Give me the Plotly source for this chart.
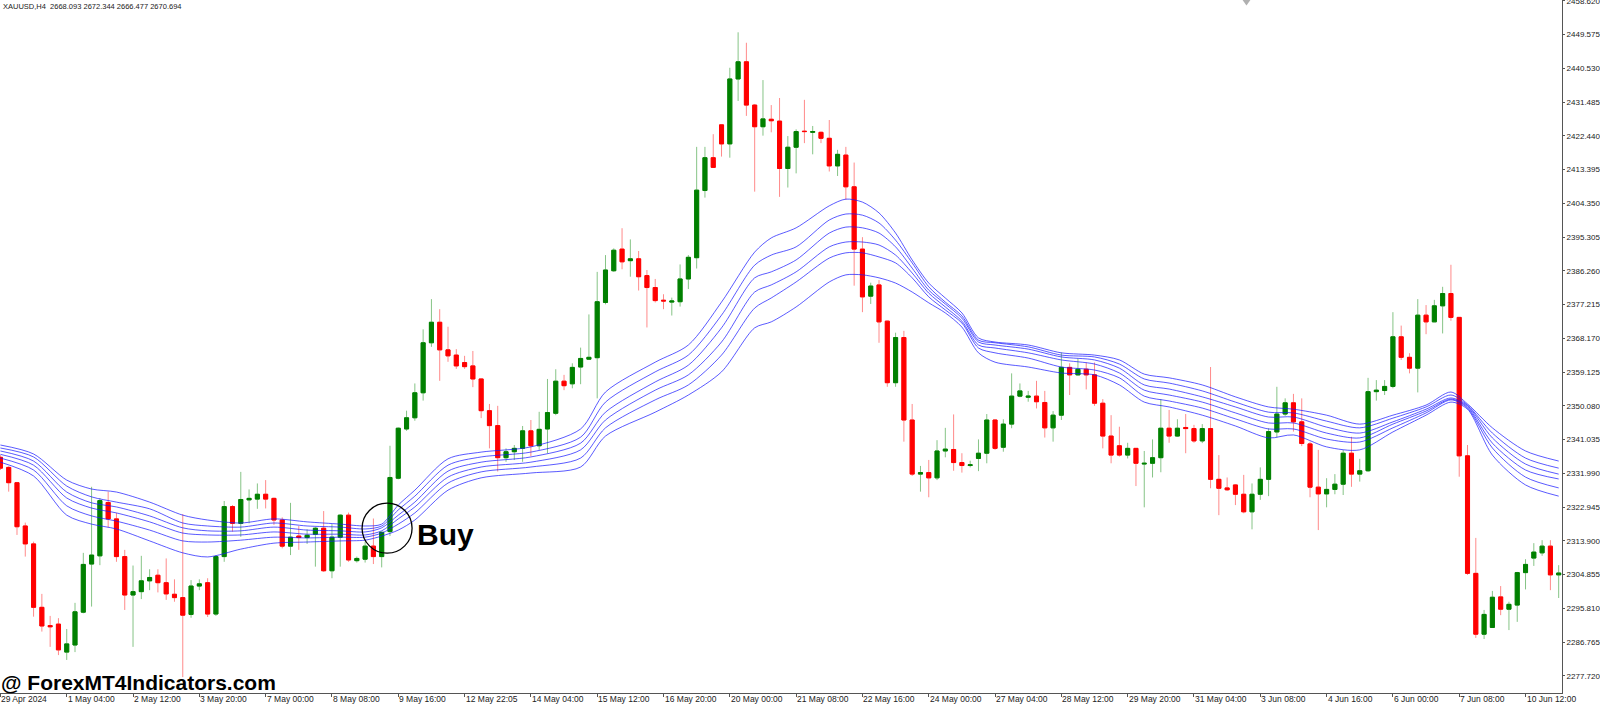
"""
xauusd_h4_ribbon.py — XAUUSD H4 candles with a 6-line MA ribbon and a Buy mark
"""

import numpy as np
import plotly.graph_objects as go

# ---- candles (bar index 0..188), prices ----
opens = [
    2336.3, 2333.6, 2329.5, 2317.9, 2313.1, 2296.1, 2291.2, 2291.6, 2284.1, 2286.0,
    2294.8, 2307.7, 2309.9, 2324.2, 2319.8, 2309.7, 2299.4, 2300.3, 2303.2, 2304.7,
    2302.7, 2299.6, 2298.7, 2294.2, 2301.8, 2302.7, 2294.3, 2309.7, 2323.1, 2318.6,
    2324.9, 2325.1, 2326.4, 2325.3, 2319.5, 2312.5, 2315.2, 2314.8, 2315.7, 2317.3,
    2305.9, 2314.9, 2320.8, 2308.6, 2309.0, 2312.5, 2309.7, 2316.4, 2330.7, 2343.9,
    2346.9, 2353.6, 2367.0, 2372.5, 2365.1, 2363.7, 2361.7, 2360.8, 2357.3, 2348.8,
    2344.8, 2336.2, 2337.8, 2338.7, 2343.4, 2339.4, 2343.9, 2348.1, 2356.7, 2356.0,
    2360.5, 2362.6, 2363.0, 2377.8, 2386.3, 2392.1, 2389.0, 2389.5, 2385.0, 2381.8,
    2378.4, 2377.9, 2378.0, 2384.1, 2389.8, 2407.8, 2416.6, 2425.4, 2420.3, 2437.7,
    2442.3, 2430.7, 2424.9, 2426.9, 2426.4, 2413.7, 2419.4, 2423.7, 2423.4, 2423.4,
    2421.8, 2414.4, 2417.3, 2408.8, 2392.1, 2379.5, 2382.5, 2372.8, 2356.3, 2368.4,
    2346.3, 2331.8, 2332.2, 2330.8, 2338.0, 2338.4, 2334.9, 2334.1, 2336.0, 2337.4,
    2346.3, 2339.0, 2345.2, 2352.7, 2352.4, 2352.7, 2351.0, 2344.2, 2347.6, 2360.4,
    2358.4, 2359.9, 2358.4, 2350.8, 2342.0, 2339.4, 2336.9, 2338.7, 2334.5, 2334.7,
    2336.2, 2344.1, 2342.0, 2344.3, 2344.0, 2340.7, 2344.0, 2330.4, 2328.1, 2328.9,
    2326.4, 2321.7, 2326.4, 2330.4, 2343.1, 2347.9, 2350.9, 2345.8, 2339.9, 2328.3,
    2326.5, 2327.7, 2329.1, 2337.4, 2331.8, 2332.7, 2353.9, 2354.2, 2355.3, 2368.6,
    2363.1, 2360.2, 2374.4, 2372.6, 2376.9, 2380.2, 2373.8, 2336.7, 2305.2, 2288.9,
    2290.7, 2298.9, 2295.6, 2296.7, 2305.4, 2309.3, 2310.7, 2312.5, 2304.8,
]
highs = [
    2336.9, 2333.9, 2329.7, 2318.8, 2313.7, 2299.7, 2293.8, 2293.2, 2290.3, 2297.3,
    2310.7, 2328.4, 2325.4, 2327.1, 2321.4, 2311.5, 2307.3, 2309.9, 2306.3, 2306.3,
    2309.2, 2303.6, 2321.1, 2303.4, 2303.6, 2303.9, 2310.1, 2324.6, 2323.5, 2332.4,
    2327.7, 2329.3, 2330.2, 2325.5, 2320.2, 2324.1, 2317.9, 2317.0, 2317.6, 2321.9,
    2318.4, 2321.0, 2321.5, 2309.7, 2313.7, 2319.9, 2316.4, 2339.4, 2344.3, 2348.8,
    2356.1, 2370.6, 2378.7, 2376.0, 2371.3, 2365.3, 2363.5, 2364.8, 2357.4, 2350.6,
    2350.1, 2338.7, 2339.6, 2344.7, 2346.3, 2348.5, 2357.3, 2359.9, 2358.4, 2361.5,
    2365.7, 2374.6, 2386.0, 2390.5, 2392.3, 2397.7, 2394.7, 2391.6, 2386.5, 2384.1,
    2380.0, 2379.1, 2388.0, 2390.5, 2419.5, 2419.5, 2422.9, 2425.4, 2440.7, 2450.2,
    2447.4, 2431.0, 2437.4, 2430.7, 2432.6, 2422.4, 2424.2, 2432.1, 2425.1, 2423.6,
    2426.7, 2418.7, 2419.5, 2415.3, 2395.3, 2383.1, 2383.8, 2372.9, 2369.7, 2370.2,
    2350.6, 2334.0, 2335.6, 2340.9, 2344.2, 2347.8, 2337.4, 2335.4, 2341.1, 2347.9,
    2346.5, 2346.5, 2358.8, 2356.1, 2354.1, 2356.8, 2354.1, 2348.7, 2364.4, 2361.5,
    2362.8, 2361.7, 2361.7, 2351.9, 2347.6, 2344.5, 2340.2, 2338.8, 2338.0, 2341.1,
    2351.9, 2349.0, 2346.5, 2347.9, 2345.0, 2345.2, 2360.5, 2336.9, 2330.9, 2329.1,
    2331.6, 2329.3, 2333.6, 2344.1, 2355.2, 2352.1, 2353.3, 2352.1, 2340.5, 2338.3,
    2330.7, 2331.8, 2338.3, 2341.8, 2335.9, 2357.6, 2357.0, 2357.0, 2375.2, 2371.6,
    2364.2, 2378.7, 2377.1, 2378.5, 2382.0, 2387.9, 2373.9, 2339.6, 2314.7, 2295.4,
    2300.5, 2301.8, 2297.6, 2305.6, 2309.0, 2313.3, 2314.1, 2314.1, 2307.4,
]
lows = [
    2332.9, 2327.1, 2315.5, 2309.7, 2293.6, 2289.6, 2285.5, 2283.3, 2282.0, 2284.1,
    2294.5, 2296.3, 2307.4, 2317.5, 2308.3, 2295.4, 2285.5, 2298.3, 2300.7, 2300.1,
    2298.1, 2297.6, 2277.4, 2293.3, 2300.7, 2293.5, 2293.8, 2308.3, 2316.4, 2315.0,
    2318.6, 2322.5, 2322.6, 2318.2, 2311.9, 2310.1, 2311.5, 2313.1, 2307.0, 2305.6,
    2303.9, 2307.0, 2308.3, 2308.1, 2308.1, 2307.7, 2306.8, 2315.2, 2330.4, 2343.4,
    2346.1, 2351.5, 2365.9, 2356.8, 2361.9, 2360.0, 2360.0, 2355.1, 2346.8, 2338.7,
    2332.5, 2335.1, 2335.6, 2335.1, 2336.6, 2338.3, 2337.4, 2347.6, 2354.3, 2354.8,
    2355.9, 2362.4, 2352.1, 2377.3, 2386.0, 2386.7, 2384.7, 2381.0, 2371.1, 2377.8,
    2376.0, 2374.3, 2376.7, 2381.4, 2386.9, 2405.9, 2413.9, 2416.9, 2416.6, 2431.8,
    2427.8, 2407.5, 2422.5, 2423.4, 2406.1, 2408.6, 2412.4, 2420.5, 2417.5, 2420.5,
    2412.9, 2411.7, 2405.3, 2382.3, 2375.2, 2377.4, 2367.0, 2355.2, 2355.2, 2340.5,
    2331.3, 2327.1, 2325.6, 2330.2, 2336.3, 2332.7, 2332.2, 2333.6, 2332.6, 2334.7,
    2338.3, 2337.8, 2344.1, 2352.4, 2351.2, 2349.4, 2341.6, 2340.5, 2346.3, 2353.0,
    2358.2, 2354.5, 2350.1, 2338.7, 2334.7, 2336.5, 2336.0, 2328.6, 2322.9, 2330.9,
    2332.3, 2340.2, 2341.8, 2337.4, 2340.2, 2340.1, 2328.0, 2320.8, 2327.3, 2323.5,
    2321.3, 2317.0, 2324.9, 2325.9, 2341.6, 2347.4, 2343.2, 2339.3, 2325.6, 2316.8,
    2322.9, 2326.4, 2326.2, 2328.4, 2329.8, 2332.4, 2351.5, 2353.0, 2354.8, 2362.4,
    2358.8, 2353.7, 2369.3, 2372.6, 2369.5, 2372.9, 2331.1, 2304.8, 2287.9, 2287.6,
    2290.6, 2294.0, 2290.0, 2292.2, 2300.9, 2307.2, 2309.9, 2300.7, 2298.6,
]
closes = [
    2333.4, 2329.5, 2317.7, 2313.1, 2296.1, 2291.1, 2290.9, 2284.7, 2286.3, 2294.9,
    2307.6, 2310.1, 2324.7, 2319.8, 2309.7, 2299.4, 2300.3, 2303.2, 2304.1, 2302.7,
    2299.7, 2298.7, 2294.0, 2301.8, 2302.4, 2294.3, 2309.7, 2323.1, 2318.6, 2325.0,
    2325.3, 2326.4, 2325.1, 2319.5, 2312.5, 2314.9, 2314.8, 2315.4, 2317.3, 2305.9,
    2314.9, 2320.8, 2308.8, 2309.2, 2312.5, 2309.7, 2316.2, 2330.9, 2344.1, 2346.9,
    2353.6, 2367.0, 2372.5, 2365.1, 2363.5, 2360.8, 2360.6, 2357.3, 2348.8, 2344.8,
    2336.2, 2337.8, 2338.7, 2343.4, 2339.4, 2343.8, 2348.3, 2356.7, 2355.5, 2360.4,
    2362.8, 2363.1, 2378.0, 2386.5, 2391.8, 2388.7, 2389.5, 2384.7, 2381.8, 2378.3,
    2378.2, 2378.2, 2384.1, 2389.9, 2407.9, 2416.6, 2414.0, 2420.3, 2437.7, 2442.3,
    2430.7, 2424.9, 2427.0, 2426.5, 2413.7, 2419.4, 2423.6, 2423.6, 2423.6, 2421.8,
    2414.4, 2417.5, 2408.8, 2392.1, 2379.3, 2382.2, 2372.6, 2356.3, 2368.4, 2346.3,
    2331.8, 2332.2, 2330.8, 2338.0, 2338.5, 2334.9, 2334.1, 2334.3, 2337.4, 2346.3,
    2338.7, 2345.2, 2352.7, 2354.1, 2352.7, 2351.2, 2344.2, 2347.6, 2360.4, 2358.4,
    2359.9, 2358.4, 2350.8, 2342.0, 2336.9, 2336.9, 2338.7, 2334.7, 2334.7, 2336.2,
    2344.1, 2342.0, 2344.1, 2344.0, 2340.7, 2344.0, 2330.4, 2328.0, 2327.6, 2326.4,
    2321.7, 2326.4, 2330.4, 2343.2, 2347.9, 2350.9, 2345.8, 2340.0, 2328.3, 2326.5,
    2327.7, 2329.1, 2337.4, 2331.8, 2332.7, 2353.9, 2354.3, 2355.3, 2368.6, 2363.1,
    2360.2, 2374.4, 2372.6, 2376.9, 2380.2, 2373.8, 2336.7, 2305.2, 2288.9, 2294.2,
    2298.8, 2295.6, 2296.9, 2305.4, 2307.6, 2310.9, 2312.5, 2304.8, 2305.3,
]

# ---- MA ribbon, six lines read at sample bars (top line first) ----
ribbon_bars = [
    0, 4, 8, 11, 14, 18, 22, 25, 29, 33, 37, 41, 44, 46, 48, 50, 54, 58, 64, 70,
    73, 79, 83, 87, 91, 93, 96, 100, 102, 104, 106, 108, 110, 112, 114, 116, 118, 120, 124, 128,
    132, 135, 138, 141, 145, 149, 153, 156, 160, 164, 168, 172, 175, 177, 180, 184, 188,
]
ribbon_1 = [
    2339.6, 2337.2, 2330.2, 2327.8, 2327.0, 2324.3, 2320.8, 2319.5, 2318.7, 2319.8,
    2319.0, 2318.4, 2317.9, 2318.4, 2323.5, 2327.5, 2335.9, 2337.7, 2339.1, 2343.9,
    2353.8, 2361.8, 2366.4, 2377.9, 2391.3, 2395.1, 2397.8, 2403.7, 2405.5, 2404.7,
    2401.8, 2396.4, 2389.2, 2383.0, 2379.0, 2375.0, 2368.3, 2367.2, 2366.4, 2364.3,
    2363.7, 2362.4, 2358.6, 2357.6, 2355.7, 2352.5, 2349.8, 2349.2, 2347.6, 2345.2,
    2347.6, 2350.3, 2353.8, 2350.6, 2344.2, 2338.0, 2335.3,
]
ribbon_2 = [
    2338.8, 2336.4, 2328.6, 2325.7, 2324.3, 2322.5, 2318.7, 2317.9, 2317.6, 2318.7,
    2317.9, 2317.6, 2317.1, 2317.9, 2322.2, 2325.9, 2334.2, 2336.4, 2337.7, 2341.7,
    2351.1, 2359.2, 2363.7, 2374.4, 2387.8, 2390.5, 2392.7, 2399.9, 2401.5, 2401.2,
    2399.1, 2394.5, 2388.4, 2382.0, 2377.9, 2374.2, 2367.7, 2367.0, 2365.9, 2363.7,
    2363.2, 2361.3, 2357.3, 2356.2, 2354.1, 2351.1, 2348.4, 2348.2, 2346.0, 2344.2,
    2346.8, 2349.8, 2353.0, 2350.3, 2342.8, 2336.1, 2333.4,
]
ribbon_3 = [
    2338.0, 2335.3, 2327.0, 2324.1, 2323.0, 2320.6, 2317.4, 2316.6, 2316.6, 2317.6,
    2316.8, 2316.6, 2316.3, 2317.4, 2320.8, 2324.3, 2332.6, 2335.0, 2336.4, 2340.1,
    2348.4, 2356.5, 2361.0, 2371.0, 2384.4, 2386.0, 2389.2, 2396.4, 2398.0, 2397.8,
    2396.4, 2392.7, 2387.0, 2381.1, 2377.4, 2373.6, 2367.2, 2366.4, 2365.3, 2363.2,
    2362.4, 2360.2, 2355.7, 2354.6, 2352.5, 2349.8, 2347.1, 2347.1, 2344.4, 2342.8,
    2345.8, 2349.2, 2352.2, 2350.1, 2341.5, 2334.5, 2331.8,
]
ribbon_4 = [
    2337.1, 2334.2, 2325.4, 2322.7, 2321.4, 2319.0, 2316.0, 2315.5, 2315.5, 2316.3,
    2315.7, 2315.7, 2315.5, 2316.6, 2319.8, 2323.0, 2331.0, 2333.7, 2335.0, 2338.3,
    2346.3, 2354.3, 2358.4, 2367.2, 2380.6, 2382.5, 2386.0, 2392.7, 2394.0, 2394.0,
    2393.2, 2390.5, 2385.7, 2380.3, 2376.6, 2372.8, 2366.4, 2365.6, 2364.3, 2362.4,
    2361.3, 2358.9, 2354.3, 2353.0, 2351.1, 2348.2, 2345.5, 2345.5, 2342.8, 2341.5,
    2345.2, 2348.7, 2351.9, 2349.8, 2340.1, 2332.9, 2330.5,
]
ribbon_5 = [
    2336.1, 2332.9, 2323.3, 2320.6, 2319.2, 2316.8, 2313.9, 2313.6, 2314.1, 2314.9,
    2314.7, 2314.9, 2314.9, 2316.0, 2318.4, 2321.4, 2329.4, 2332.4, 2333.7, 2336.1,
    2344.2, 2351.7, 2355.7, 2363.7, 2376.3, 2379.0, 2383.3, 2389.7, 2391.1, 2391.1,
    2390.0, 2388.4, 2384.4, 2379.3, 2375.8, 2372.3, 2365.6, 2364.3, 2362.9, 2360.5,
    2359.7, 2357.6, 2352.7, 2351.4, 2349.5, 2346.6, 2343.9, 2343.9, 2341.2, 2340.4,
    2344.2, 2348.2, 2351.7, 2349.5, 2338.8, 2331.0, 2328.1,
]
ribbon_6 = [
    2335.0, 2331.3, 2320.8, 2318.4, 2317.1, 2313.9, 2310.7, 2309.6, 2311.7, 2313.3,
    2313.6, 2313.9, 2314.1, 2315.2, 2316.8, 2319.5, 2327.5, 2330.8, 2332.1, 2333.7,
    2342.0, 2348.4, 2353.0, 2359.2, 2371.0, 2372.6, 2376.6, 2383.3, 2385.2, 2385.2,
    2384.4, 2383.0, 2380.6, 2377.7, 2375.0, 2371.2, 2364.3, 2361.8, 2360.5, 2358.9,
    2358.4, 2355.7, 2351.1, 2349.8, 2347.6, 2344.7, 2341.5, 2342.3, 2339.1, 2338.3,
    2343.1, 2347.6, 2351.1, 2349.2, 2336.9, 2328.9, 2325.9,
]

# ---- axes ----
price_ticks = [
    2277.720, 2286.765, 2295.810, 2304.855, 2313.900, 2322.945, 2331.990, 2341.035,
    2350.080, 2359.125, 2368.170, 2377.215, 2386.260, 2395.305, 2404.350, 2413.395,
    2422.440, 2431.485, 2440.530, 2449.575, 2458.620,
]
time_tick_bars = list(range(0, 185, 8))
time_tick_labels = [
    "29 Apr 2024", "1 May 04:00", "2 May 12:00", "3 May 20:00", "7 May 00:00",
    "8 May 08:00", "9 May 16:00", "12 May 22:05", "14 May 04:00", "15 May 12:00",
    "16 May 20:00", "20 May 00:00", "21 May 08:00", "22 May 16:00", "24 May 00:00",
    "27 May 04:00", "28 May 12:00", "29 May 20:00", "31 May 04:00", "3 Jun 08:00",
    "4 Jun 16:00", "6 Jun 00:00", "7 Jun 08:00", "10 Jun 12:00",
]

# сигнал на покупку: бар и цена центра круга
buy_bar, buy_price = 46.65, 2317.3
header = "XAUUSD,H4  2668.093 2672.344 2666.477 2670.694"

UP, DOWN = "#008000", "#ff0000"
UP_WICK, DOWN_WICK = "#86c486", "#ff8a8a"


def main():
    bars = np.arange(len(opens))
    o = np.array(opens)
    c = np.array(closes)

    fig = go.Figure()

    # тени свечей (светлые, как в MT4 после сжатия скриншота)
    fig.add_trace(go.Candlestick(
        x=bars, open=opens, high=highs, low=lows, close=closes,
        increasing=dict(line=dict(color=UP_WICK, width=1), fillcolor=UP_WICK),
        decreasing=dict(line=dict(color=DOWN_WICK, width=1), fillcolor=DOWN_WICK),
        showlegend=False, hoverinfo="skip",
    ))
    # тела свечей
    fig.add_trace(go.Candlestick(
        x=bars, open=o, high=np.maximum(o, c), low=np.minimum(o, c), close=c,
        increasing=dict(line=dict(color=UP, width=1), fillcolor=UP),
        decreasing=dict(line=dict(color=DOWN, width=1), fillcolor=DOWN),
        showlegend=False,
    ))

    # лента скользящих
    for line in [ribbon_1, ribbon_2, ribbon_3, ribbon_4, ribbon_5, ribbon_6]:
        fig.add_trace(go.Scatter(
            x=ribbon_bars, y=line, mode="lines",
            line=dict(color="rgba(20,20,255,0.7)", width=1, shape="spline", smoothing=0.8),
            showlegend=False, hoverinfo="skip",
        ))

    # круг Buy
    fig.add_trace(go.Scatter(
        x=[buy_bar], y=[buy_price], mode="markers",
        marker=dict(symbol="circle-open", size=50, color="#000", line=dict(width=1.3)),
        showlegend=False, hoverinfo="skip",
    ))
    fig.add_annotation(
        x=buy_bar + 3.4, y=buy_price - 1.6, text="<b>Buy</b>", showarrow=False,
        xanchor="left", yanchor="middle",
        font=dict(family="Liberation Sans, Arial", size=30, color="#000"),
    )

    # подписи времени — справа от тика, как в терминале
    for b, label in zip(time_tick_bars, time_tick_labels):
        fig.add_annotation(
            x=b, y=0, xref="x", yref="paper", text=label, showarrow=False,
            xanchor="left", yanchor="top", xshift=-1, yshift=1,
            font=dict(size=8.5, color="#222"),
        )

    fig.add_annotation(
        x=0, y=0, xref="paper", yref="paper", text="<b>@ ForexMT4Indicators.com</b>",
        showarrow=False, xanchor="left", yanchor="bottom", xshift=-1, yshift=-3,
        font=dict(family="Liberation Sans, Arial", size=21, color="#000"),
    )
    fig.add_annotation(
        x=0, y=1, xref="paper", yref="paper", text=header, showarrow=False,
        xanchor="left", yanchor="top", xshift=1, yshift=0,
        font=dict(size=7.5, color="#222"),
    )

    # маркер сдвига графика сверху
    fig.add_shape(
        type="path", xref="paper", yref="paper",
        path="M 0.7955 1 L 0.8005 1 L 0.798 0.992 Z",
        fillcolor="#b0b0b0", line=dict(width=0),
    )

    fig.update_layout(
        width=1600, height=706,
        paper_bgcolor="#ffffff", plot_bgcolor="#ffffff",
        font=dict(family="Liberation Sans, Arial", size=9, color="#222"),
        margin=dict(l=0, r=38, t=0, b=13, autoexpand=False),
        showlegend=False,
        hovermode=False,
    )
    fig.update_xaxes(
        range=[-0.05, 188.4], rangeslider=dict(visible=False),
        showgrid=False, zeroline=False,
        showline=True, linecolor="#555", linewidth=1,
        tickmode="array", tickvals=time_tick_bars, showticklabels=False,
        ticks="outside", ticklen=3, tickcolor="#555",
    )
    fig.update_yaxes(
        range=[2273.14, 2458.86], side="right",
        showgrid=False, zeroline=False,
        showline=True, linecolor="#555", linewidth=1,
        tickmode="array", tickvals=price_ticks,
        ticktext=[f"{p:.3f}" for p in price_ticks],
        ticks="outside", ticklen=2, tickcolor="#555",
        tickfont=dict(size=8, color="#222"),
        ticklabeloverflow="allow",
    )

    # страница без отступов, чтобы график занял окно целиком
    fig.write_html(
        "out.html",
        config={"displayModeBar": False},
        post_script="document.body.style.margin='0';document.body.style.overflow='hidden';",
    )


if __name__ == "__main__":
    main()
